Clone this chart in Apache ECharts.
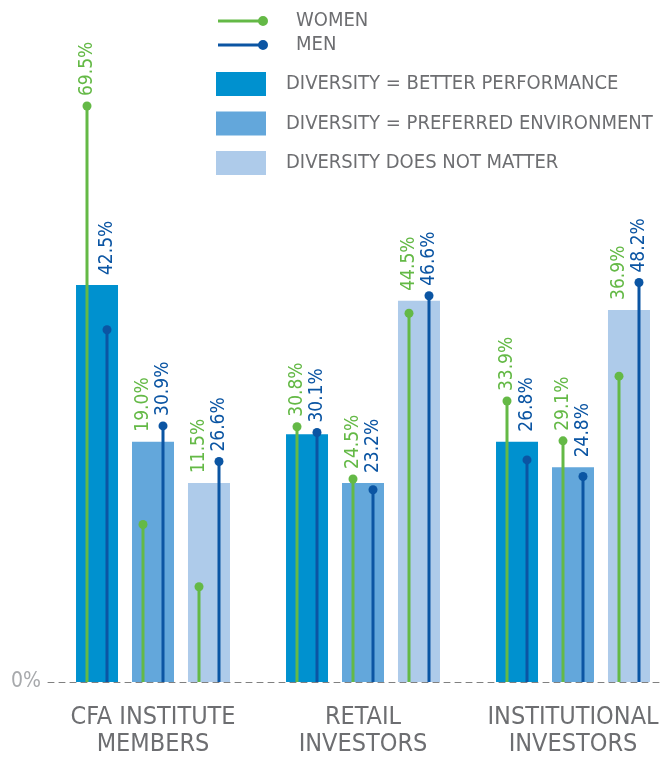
<!DOCTYPE html>
<html><head><meta charset="utf-8">
<script src="https://cdn.jsdelivr.net/npm/echarts@6/dist/echarts.min.js"></script>
<style>html,body{margin:0;padding:0;background:#fff}#c{width:663px;height:757px}</style>
</head><body><div id="c"></div>
<script>
const categories = ['CFA INSTITUTE\nMEMBERS', 'RETAIL\nINVESTORS', 'INSTITUTIONAL\nINVESTORS'];
const barNames = ['DIVERSITY = BETTER PERFORMANCE', 'DIVERSITY = PREFERRED ENVIRONMENT', 'DIVERSITY DOES NOT MATTER'];
const barPerformance = [47.9, 29.9, 29.0];
const barPreferred = [29.0, 24.0, 25.9];
const barNoMatter = [24.0, 46.0, 44.9];
const womenPerformance = [69.5, 30.8, 33.9];
const womenPreferred = [19.0, 24.5, 29.1];
const womenNoMatter = [11.5, 44.5, 36.9];
const menPerformance = [42.5, 30.1, 26.8];
const menPreferred = [30.9, 23.2, 24.8];
const menNoMatter = [26.6, 46.6, 48.2];
const yTickLabels = ['0%'];

const FONT = "'DejaVu Sans Condensed', 'Liberation Sans Narrow', Roboto, sans-serif";
const GREEN = '#64b946';
const BLUE = '#0b55a3';
const BAR_COLORS = ['#0091cf', '#63a7db', '#aecbea'];
const GRAY = '#6d6e71';
const LINE_ICON = 'path://M0,3.5 L42,3.5 L42,6.5 L0,6.5 Z M40,5 A5,5 0 1,1 50,5 A5,5 0 1,1 40,5 Z';

const barSets = [barPerformance, barPreferred, barNoMatter];
const womenSets = [womenPerformance, womenPreferred, womenNoMatter];
const menSets = [menPerformance, menPreferred, menNoMatter];

function lollipopData(sets) {
  const out = [];
  for (let i = 0; i < categories.length; i++) {
    for (let k = 0; k < 3; k++) {
      out.push([i, sets[k][i], k, barSets[k][i]]);
    }
  }
  return out;
}

function makeRender(color, side) {
  return function (params, api) {
    const cat = api.value(0), val = api.value(1), k = api.value(2), bar = api.value(3);
    const base = api.coord([cat, 0]);
    const top = api.coord([cat, val]);
    const barTop = api.coord([cat, bar]);
    const x = base[0] + (k - 1) * 56 + side * 10;
    const labelY = Math.min(top[1], barTop[1]) - 10;
    return {
      type: 'group',
      children: [
        { type: 'line', shape: { x1: x, y1: base[1], x2: x, y2: top[1] }, style: { stroke: color, lineWidth: 3 } },
        { type: 'circle', shape: { cx: x, cy: top[1], r: 4.5 }, style: { fill: color } },
        { type: 'text', x: x, y: labelY, rotation: Math.PI / 2,
          style: { text: val.toFixed(1) + '%', fill: color, font: '19px ' + FONT, align: 'left', verticalAlign: 'middle' } }
      ]
    };
  };
}

const chart = echarts.init(document.getElementById('c'), null, { renderer: 'canvas' });
const series = barSets.map((vals, k) => ({
  name: barNames[k], type: 'bar', data: vals, barWidth: 42, barGap: '33.3%',
  itemStyle: { color: BAR_COLORS[k] }, silent: true, emphasis: { disabled: true }
}));
series.push({
  name: 'WOMEN', type: 'custom', data: lollipopData(womenSets), encode: { x: 0, y: 1 },
  itemStyle: { color: GREEN }, renderItem: makeRender(GREEN, -1), z: 5, silent: true
});
series.push({
  name: 'MEN', type: 'custom', data: lollipopData(menSets), encode: { x: 0, y: 1 },
  itemStyle: { color: BLUE }, renderItem: makeRender(BLUE, 1), z: 5, silent: true
});

chart.setOption({
  animation: false,
  backgroundColor: '#fff',
  grid: { left: 48, width: 630, top: 19, bottom: 75, outerBoundsMode: 'none', containLabel: false },
  legend: [
    { orient: 'vertical', left: 218, top: 11, padding: 0, itemWidth: 50, itemHeight: 10, itemGap: 4,
      selectedMode: false,
      data: [{ name: 'WOMEN', icon: LINE_ICON }, { name: 'MEN', icon: LINE_ICON }],
      formatter: '{t|{name}}',
      textStyle: { color: GRAY, fontSize: 20, fontFamily: FONT,
        rich: { t: { color: GRAY, fontSize: 20, fontFamily: FONT, lineHeight: 22, padding: [0, 0, 0, 23] } } } },
    { orient: 'vertical', left: 216, top: 72, padding: 0, itemWidth: 50, itemHeight: 24, itemGap: 15.5,
      selectedMode: false, icon: 'rect',
      data: barNames,
      formatter: '{t|{name}}',
      textStyle: { color: GRAY, fontSize: 20, fontFamily: FONT,
        rich: { t: { color: GRAY, fontSize: 20, fontFamily: FONT, lineHeight: 24, padding: [0, 0, 0, 15] } } } }
  ],
  xAxis: {
    type: 'category', data: categories,
    axisTick: { show: false },
    axisLine: { lineStyle: { color: '#808080', width: 1, type: [6, 5] } },
    axisLabel: { color: GRAY, fontSize: 25, lineHeight: 27, margin: 22, fontFamily: FONT, interval: 0 }
  },
  yAxis: {
    type: 'value', min: 0, max: 80, interval: 80,
    splitLine: { show: false }, axisLine: { show: false }, axisTick: { show: false },
    axisLabel: { formatter: v => (v === 0 ? yTickLabels[0] : ''), color: '#a7a9ac', fontSize: 21, margin: 7, fontFamily: FONT }
  },
  series: series
});
</script>
</body></html>
